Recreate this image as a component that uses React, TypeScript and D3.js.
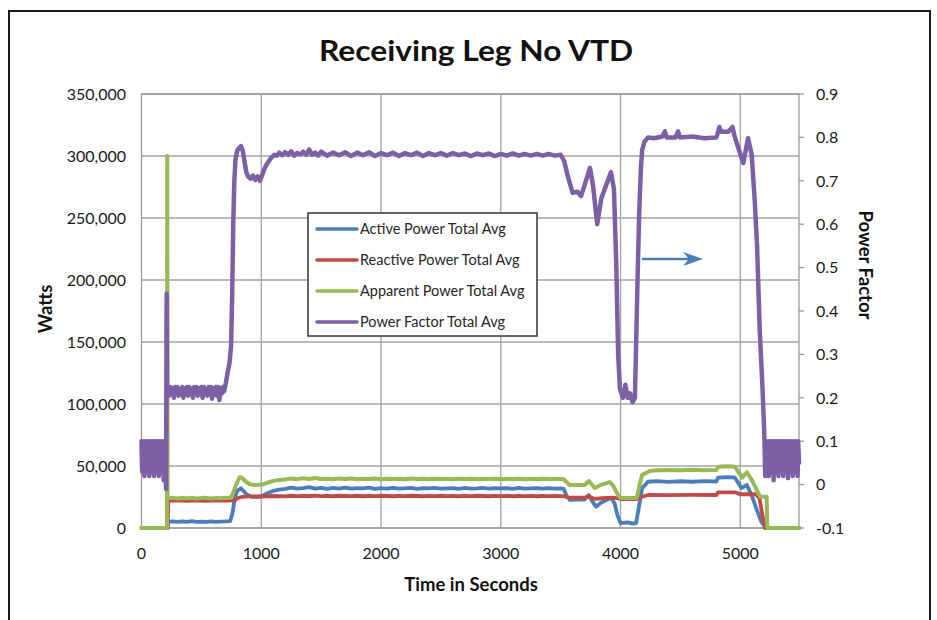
import React, { useEffect, useRef } from 'react';
import * as d3 from 'd3';

const TITLE = 'Receiving Leg No VTD';
const X_TICKS = [0, 1000, 2000, 3000, 4000, 5000];
const LEFT_TICKS = [0, 50000, 100000, 150000, 200000, 250000, 300000, 350000];
const RIGHT_TICKS = [-0.1, 0, 0.1, 0.2, 0.3, 0.4, 0.5, 0.6, 0.7, 0.8, 0.9];
const SERIES_NAMES = ['Active Power Total Avg', 'Reactive Power Total Avg', 'Apparent Power Total Avg', 'Power Factor Total Avg'];
const SERIES_COLORS = ['#4A7EBB', '#BE4B48', '#98B954', '#7D5FA6'];

const activePower: [number, number][] = [
  [0, 0], [218, 0], [224, 5100], [260, 5400], [300, 4900], [340, 5300], [380, 5000], [420, 5500], [460, 4900], [500, 5200],
  [540, 5000], [580, 5400], [620, 4900], [660, 5200], [700, 5300], [740, 5500], [760, 12000], [780, 25000], [800, 30000],
  [830, 32000], [850, 30000], [880, 27000], [920, 25200], [960, 25000], [1000, 25500], [1050, 28000], [1100, 30000], [1150, 31000],
  [1200, 31500], [1250, 32500], [1300, 31800], [1350, 32200], [1400, 33000], [1450, 31700], [1500, 32300], [1550, 31600],
  [1600, 32400], [1650, 31800], [1700, 32600], [1750, 31700], [1800, 32100], [1850, 31900], [1900, 32500], [1950, 31600],
  [2000, 32200], [2050, 31800], [2100, 32400], [2150, 31700], [2200, 32000], [2250, 32300], [2300, 31600], [2350, 32100],
  [2400, 31900], [2450, 32400], [2500, 31700], [2550, 32000], [2600, 32200], [2650, 31600], [2700, 32300], [2750, 31800],
  [2800, 32000], [2850, 32400], [2900, 31700], [2950, 32100], [3000, 31900], [3050, 32200], [3100, 31600], [3150, 32300],
  [3200, 31800], [3250, 32000], [3300, 32200], [3350, 31700], [3400, 32100], [3450, 31800], [3500, 32000], [3525, 31500],
  [3550, 26000], [3575, 22600], [3640, 23000], [3700, 23000], [3735, 26600], [3760, 22000], [3795, 17200], [3840, 20500],
  [3880, 22500], [3920, 24400], [3950, 20000], [3975, 10000], [4000, 4000], [4060, 4500], [4100, 3500], [4130, 4000],
  [4150, 15000], [4180, 32200], [4230, 37300], [4300, 37800], [4400, 37200], [4500, 37700], [4600, 37300], [4700, 37800],
  [4800, 37500], [4815, 40600], [4900, 41000], [4955, 40600], [5010, 32200], [5055, 34700], [5100, 25000], [5140, 14000],
  [5175, 5100], [5215, 500], [5222, 0], [5490, 0],
];

const reactivePower: [number, number][] = [
  [0, 0], [218, 0], [224, 22000], [300, 22300], [380, 21800], [460, 22200], [540, 21900], [620, 22300], [700, 22000],
  [780, 22200], [800, 24000], [840, 25200], [900, 25500], [1000, 25400], [1100, 25800],
  [1200, 25500], [1250, 26000], [1300, 25700], [1350, 25900], [1400, 25600], [1450, 26100], [1500, 25700], [1550, 25900],
  [1600, 25600], [1650, 26000], [1700, 25800], [1750, 25700], [1800, 26000], [1850, 25600], [1900, 25900], [1950, 25700],
  [2000, 26000], [2050, 25800], [2100, 25600], [2150, 25900], [2200, 25700], [2250, 26000], [2300, 25800], [2350, 25600],
  [2400, 25900], [2450, 25700], [2500, 26000], [2550, 25700], [2600, 25800], [2650, 25600], [2700, 25900], [2750, 25700],
  [2800, 26000], [2850, 25800], [2900, 25600], [2950, 25900], [3000, 25700], [3050, 25900], [3100, 25600], [3150, 25800],
  [3200, 25700], [3250, 25900], [3300, 25600], [3350, 25800], [3400, 25700], [3450, 25900], [3500, 25700], [3530, 25600],
  [3555, 24800], [3575, 24400], [3700, 24400], [3730, 25500], [3780, 23500], [3850, 24000], [3950, 24400], [4000, 23400],
  [4135, 23400], [4180, 25200], [4230, 26600], [4400, 26500], [4600, 26700], [4800, 26600], [4815, 28800], [4955, 28800],
  [5000, 27200], [5130, 27200], [5160, 24000], [5185, 10000], [5205, 0], [5490, 0],
];

const apparentPower: [number, number][] = [
  [0, 0], [213, 0], [215, 300000], [218, 24000], [260, 24300], [300, 23800], [340, 24200], [380, 23900], [420, 24400],
  [460, 23700], [500, 24100], [540, 24300], [580, 23800], [620, 24200], [660, 24000], [700, 24300], [740, 24100],
  [760, 27000], [790, 35000], [820, 41000], [840, 40500], [870, 37500], [900, 35500], [940, 34700], [980, 34800],
  [1010, 35000], [1050, 36500], [1100, 38000], [1150, 38800],
  [1200, 39200], [1250, 39900], [1300, 39400], [1350, 40100], [1400, 39600], [1450, 40300], [1500, 39500], [1550, 39800],
  [1600, 39300], [1650, 40000], [1700, 39600], [1750, 39900], [1800, 39400], [1850, 39700], [1900, 39500], [1950, 40000],
  [2000, 39400], [2050, 39800], [2100, 39500], [2150, 39700], [2200, 39300], [2250, 39900], [2300, 39500], [2350, 39700],
  [2400, 39400], [2450, 39800], [2500, 39500], [2550, 39600], [2600, 39400], [2650, 39800], [2700, 39500], [2750, 39700],
  [2800, 39400], [2850, 39600], [2900, 39500], [2950, 39700], [3000, 39300], [3050, 39600], [3100, 39500], [3150, 39700],
  [3200, 39400], [3250, 39600], [3300, 39500], [3350, 39700], [3400, 39400], [3450, 39600], [3500, 39500], [3525, 39300],
  [3550, 37000], [3575, 34700], [3700, 34700], [3735, 37900], [3785, 32200], [3830, 34500], [3910, 37000], [3940, 34000],
  [3970, 28000], [4000, 24200], [4135, 24200], [4160, 35000], [4180, 42700], [4245, 46000], [4300, 46500], [4400, 46800],
  [4500, 46500], [4600, 46900], [4700, 46600], [4800, 46700], [4815, 49400], [4900, 49800], [4955, 49400], [5015, 40600],
  [5055, 45000], [5100, 38000], [5165, 25200], [5220, 25200], [5225, 0], [5490, 0],
];

const pfStart: [number, number][] = [
  [0, 0.1], [5, 0.03], [10, 0.095], [15, 0.04], [20, 0.1], [25, 0.02], [30, 0.1], [35, 0.05], [40, 0.09], [45, 0.03],
  [50, 0.1], [55, 0.04], [60, 0.1], [65, 0.02], [70, 0.095], [75, 0.05], [80, 0.1], [85, 0.03], [90, 0.1], [95, 0.045],
  [100, 0.09], [105, 0.02], [110, 0.1], [115, 0.04], [120, 0.1], [125, 0.03], [130, 0.095], [135, 0.05], [140, 0.1],
  [145, 0.02], [150, 0.1], [155, 0.04], [160, 0.09], [165, 0.03], [170, 0.1], [175, 0.05], [180, 0.1], [185, 0.01],
  [190, 0.095], [195, 0.04], [200, 0.1], [205, -0.01], [210, 0.44], [214, 0.22],
];

const pfLow: [number, number][] = [
  [220, 0.225], [230, 0.205], [240, 0.225], [250, 0.21], [260, 0.222], [270, 0.2], [280, 0.225], [290, 0.212], [300, 0.225],
  [310, 0.205], [320, 0.22], [330, 0.208], [340, 0.225], [350, 0.2], [360, 0.222], [370, 0.21], [380, 0.225], [390, 0.205],
  [400, 0.225], [410, 0.212], [420, 0.22], [430, 0.2], [440, 0.225], [450, 0.21], [460, 0.225], [470, 0.205], [480, 0.222],
  [490, 0.212], [500, 0.225], [510, 0.2], [520, 0.225], [530, 0.21], [540, 0.22], [550, 0.205], [560, 0.225], [570, 0.212],
  [580, 0.225], [590, 0.198], [600, 0.222], [610, 0.21], [620, 0.225], [630, 0.205], [640, 0.225], [650, 0.195], [660, 0.222],
  [670, 0.21], [680, 0.225], [690, 0.215],
];

const pfMain: [number, number][] = [
  [705, 0.235], [720, 0.26], [735, 0.28], [748, 0.32], [758, 0.45], [766, 0.6], [775, 0.7], [785, 0.75], [800, 0.77],
  [815, 0.775], [830, 0.78], [845, 0.77], [860, 0.745], [875, 0.72], [890, 0.71], [910, 0.705], [930, 0.712], [950, 0.702],
  [970, 0.71], [990, 0.7], [1010, 0.715], [1030, 0.73], [1050, 0.74], [1070, 0.748], [1090, 0.755], [1110, 0.76],
  [1130, 0.758], [1150, 0.765], [1175, 0.759], [1200, 0.766], [1225, 0.76], [1250, 0.768], [1275, 0.758], [1300, 0.764],
  [1325, 0.761], [1350, 0.767], [1375, 0.76], [1400, 0.772], [1425, 0.76], [1450, 0.765], [1475, 0.758], [1500, 0.767],
  [1550, 0.758], [1600, 0.765], [1650, 0.759], [1700, 0.766], [1750, 0.757], [1800, 0.765], [1850, 0.759], [1900, 0.766],
  [1950, 0.757], [2000, 0.764], [2050, 0.759], [2100, 0.765], [2150, 0.757], [2200, 0.764], [2250, 0.759], [2300, 0.765],
  [2350, 0.757], [2400, 0.764], [2450, 0.759], [2500, 0.764], [2550, 0.758], [2600, 0.764], [2650, 0.759], [2700, 0.763],
  [2750, 0.757], [2800, 0.763], [2850, 0.759], [2900, 0.763], [2950, 0.757], [3000, 0.762], [3050, 0.758], [3100, 0.763],
  [3150, 0.758], [3200, 0.762], [3250, 0.758], [3300, 0.762], [3350, 0.758], [3400, 0.762], [3450, 0.758], [3500, 0.76],
  [3530, 0.745], [3560, 0.71], [3600, 0.672], [3640, 0.675], [3670, 0.665], [3700, 0.69], [3745, 0.73], [3770, 0.69],
  [3805, 0.6], [3840, 0.66], [3880, 0.69], [3920, 0.72], [3945, 0.68], [3965, 0.5], [3980, 0.3], [3995, 0.22],
  [4020, 0.2], [4040, 0.23], [4060, 0.2], [4080, 0.21], [4100, 0.19], [4120, 0.2], [4128, 0.3], [4140, 0.45],
  [4155, 0.62], [4170, 0.73], [4180, 0.77], [4200, 0.79], [4230, 0.8], [4280, 0.798], [4350, 0.802], [4370, 0.814],
  [4385, 0.8], [4460, 0.8], [4480, 0.814], [4495, 0.8], [4600, 0.802], [4700, 0.798], [4800, 0.8], [4815, 0.813],
  [4825, 0.824], [4840, 0.813], [4900, 0.813], [4935, 0.824], [4950, 0.805], [4990, 0.77], [5025, 0.741], [5045, 0.77],
  [5065, 0.798], [5095, 0.76], [5120, 0.656], [5140, 0.55], [5162, 0.356], [5186, 0.218], [5200, 0.12], [5208, 0.02],
];

const pfEnd: [number, number][] = [
  [5213, 0.1], [5218, 0.03], [5223, 0.095], [5228, 0.04], [5233, 0.1], [5238, 0.02], [5243, 0.1], [5248, 0.05],
  [5253, 0.09], [5258, 0.03], [5263, 0.1], [5268, 0.045], [5273, 0.1], [5278, 0.01], [5283, 0.095], [5288, 0.04],
  [5293, 0.1], [5298, 0.03], [5303, 0.1], [5308, 0.05], [5313, 0.09], [5318, 0.02], [5323, 0.1], [5328, 0.04],
  [5333, 0.1], [5338, 0.03], [5343, 0.095], [5348, 0.05], [5353, 0.1], [5358, 0.02], [5363, 0.1], [5368, 0.045],
  [5373, 0.09], [5378, 0.03], [5383, 0.1], [5388, 0.04], [5393, 0.1], [5398, 0.015], [5403, 0.095], [5408, 0.05],
  [5413, 0.1], [5418, 0.03], [5423, 0.1], [5428, 0.04], [5433, 0.09], [5438, 0.02], [5443, 0.1], [5448, 0.05],
  [5453, 0.1], [5458, 0.03], [5463, 0.095], [5468, 0.04], [5473, 0.1], [5478, 0.02], [5483, 0.1], [5490, 0.05],
];

const powerFactor: [number, number][] = [...pfStart, ...pfLow, ...pfMain, ...pfEnd];

const FONT = 'Lato, "Open Sans", sans-serif';

export default function App() {
  const ref = useRef<SVGSVGElement | null>(null);

  useEffect(() => {
    const svg = d3.select(ref.current);
    svg.selectAll('*').remove();

    const left = 141.5, right = 799, top = 94, bottom = 528;
    const x = d3.scaleLinear().domain([0, 5490]).range([left, right]);
    const yL = d3.scaleLinear().domain([0, 350000]).range([bottom, top]);
    const yR = d3.scaleLinear().domain([-0.1, 0.9]).range([bottom, top]);

    svg.append('rect').attr('x', 0).attr('y', 0).attr('width', 937).attr('height', 620).attr('fill', '#fff');
    svg.append('rect').attr('x', 9).attr('y', 11).attr('width', 921).attr('height', 700)
      .attr('fill', 'none').attr('stroke', '#1a1a1a').attr('stroke-width', 2);

    svg.append('text').attr('x', 476).attr('y', 61).attr('text-anchor', 'middle')
      .attr('font-family', FONT).attr('font-weight', 700).attr('font-size', 29).attr('fill', '#111')
      .attr('textLength', 314).attr('lengthAdjust', 'spacingAndGlyphs')
      .text(TITLE);

    const grid = svg.append('g').attr('stroke', '#a3a3a3').attr('stroke-width', 1.3);
    X_TICKS.slice(1).forEach((t) => {
      grid.append('line').attr('x1', x(t)).attr('x2', x(t)).attr('y1', top).attr('y2', bottom);
    });
    LEFT_TICKS.forEach((v) => {
      grid.append('line').attr('x1', left).attr('x2', right).attr('y1', yL(v)).attr('y2', yL(v));
    });
    svg.append('rect').attr('x', left).attr('y', top).attr('width', right - left).attr('height', bottom - top)
      .attr('fill', 'none').attr('stroke', '#9a9a9a').attr('stroke-width', 1.3);
    RIGHT_TICKS.forEach((v) => {
      svg.append('line').attr('x1', right).attr('x2', right + 5).attr('y1', yR(v)).attr('y2', yR(v))
        .attr('stroke', '#9a9a9a').attr('stroke-width', 1.3);
    });

    const lab = svg.append('g').attr('font-family', FONT).attr('font-size', 16).attr('fill', '#1a1a1a');
    LEFT_TICKS.forEach((v) => {
      lab.append('text').attr('x', 126).attr('y', yL(v)).attr('dy', '0.36em').attr('text-anchor', 'end')
        .text(d3.format(',')(v));
    });
    RIGHT_TICKS.forEach((v) => {
      lab.append('text').attr('x', 816).attr('y', yR(v)).attr('dy', '0.36em').attr('text-anchor', 'start')
        .text(Math.abs(v) < 1e-9 ? '0' : v.toFixed(1));
    });
    X_TICKS.forEach((t) => {
      lab.append('text').attr('x', x(t)).attr('y', 559).attr('text-anchor', 'middle').text(String(t));
    });

    const ttl = svg.append('g').attr('font-family', FONT).attr('font-weight', 700).attr('font-size', 18.5).attr('fill', '#111');
    ttl.append('text').attr('transform', 'translate(52,309) rotate(-90)').attr('text-anchor', 'middle').text('Watts');
    ttl.append('text').attr('transform', 'translate(859,265) rotate(90)').attr('text-anchor', 'middle').text('Power Factor');
    ttl.append('text').attr('x', 471).attr('y', 591).attr('text-anchor', 'middle').text('Time in Seconds');

    const plot = svg.append('g');
    const lineL = d3.line<[number, number]>().x((d) => x(d[0])).y((d) => yL(d[1]));
    const lineR = d3.line<[number, number]>().x((d) => x(d[0])).y((d) => yR(d[1]));
    [activePower, reactivePower, apparentPower].forEach((s, i) => {
      plot.append('path').attr('d', lineL(s)).attr('fill', 'none').attr('stroke', SERIES_COLORS[i])
        .attr('stroke-width', i === 2 ? 4 : 3.8).attr('stroke-linejoin', 'round').attr('stroke-linecap', 'round');
    });
    plot.append('path').attr('d', lineR(powerFactor)).attr('fill', 'none').attr('stroke', SERIES_COLORS[3])
      .attr('stroke-width', 4.5).attr('stroke-linejoin', 'round').attr('stroke-linecap', 'round');

    svg.append('line').attr('x1', 642).attr('x2', 692).attr('y1', 259).attr('y2', 259)
      .attr('stroke', '#4A7EBB').attr('stroke-width', 2.5);
    svg.append('path').attr('d', 'M703,259 L683,252 L689,259 L683,266 Z').attr('fill', '#4A7EBB');

    const lg = svg.append('g');
    lg.append('rect').attr('x', 308).attr('y', 213).attr('width', 229).attr('height', 123)
      .attr('fill', '#fff').attr('stroke', '#333').attr('stroke-width', 1.5);
    SERIES_NAMES.forEach((name, i) => {
      const yy = 229 + i * 31;
      lg.append('line').attr('x1', 317).attr('x2', 357).attr('y1', yy).attr('y2', yy)
        .attr('stroke', SERIES_COLORS[i]).attr('stroke-width', 3.5).attr('stroke-linecap', 'round');
      lg.append('text').attr('x', 360).attr('y', yy).attr('dy', '0.36em').attr('font-family', FONT)
        .attr('font-size', 14.5).attr('fill', '#262626').text(name);
    });
  }, []);

  return (
    <svg ref={ref} width={937} height={620}
      style={{ position: 'absolute', left: 0, top: 0, display: 'block' }} />
  );
}
